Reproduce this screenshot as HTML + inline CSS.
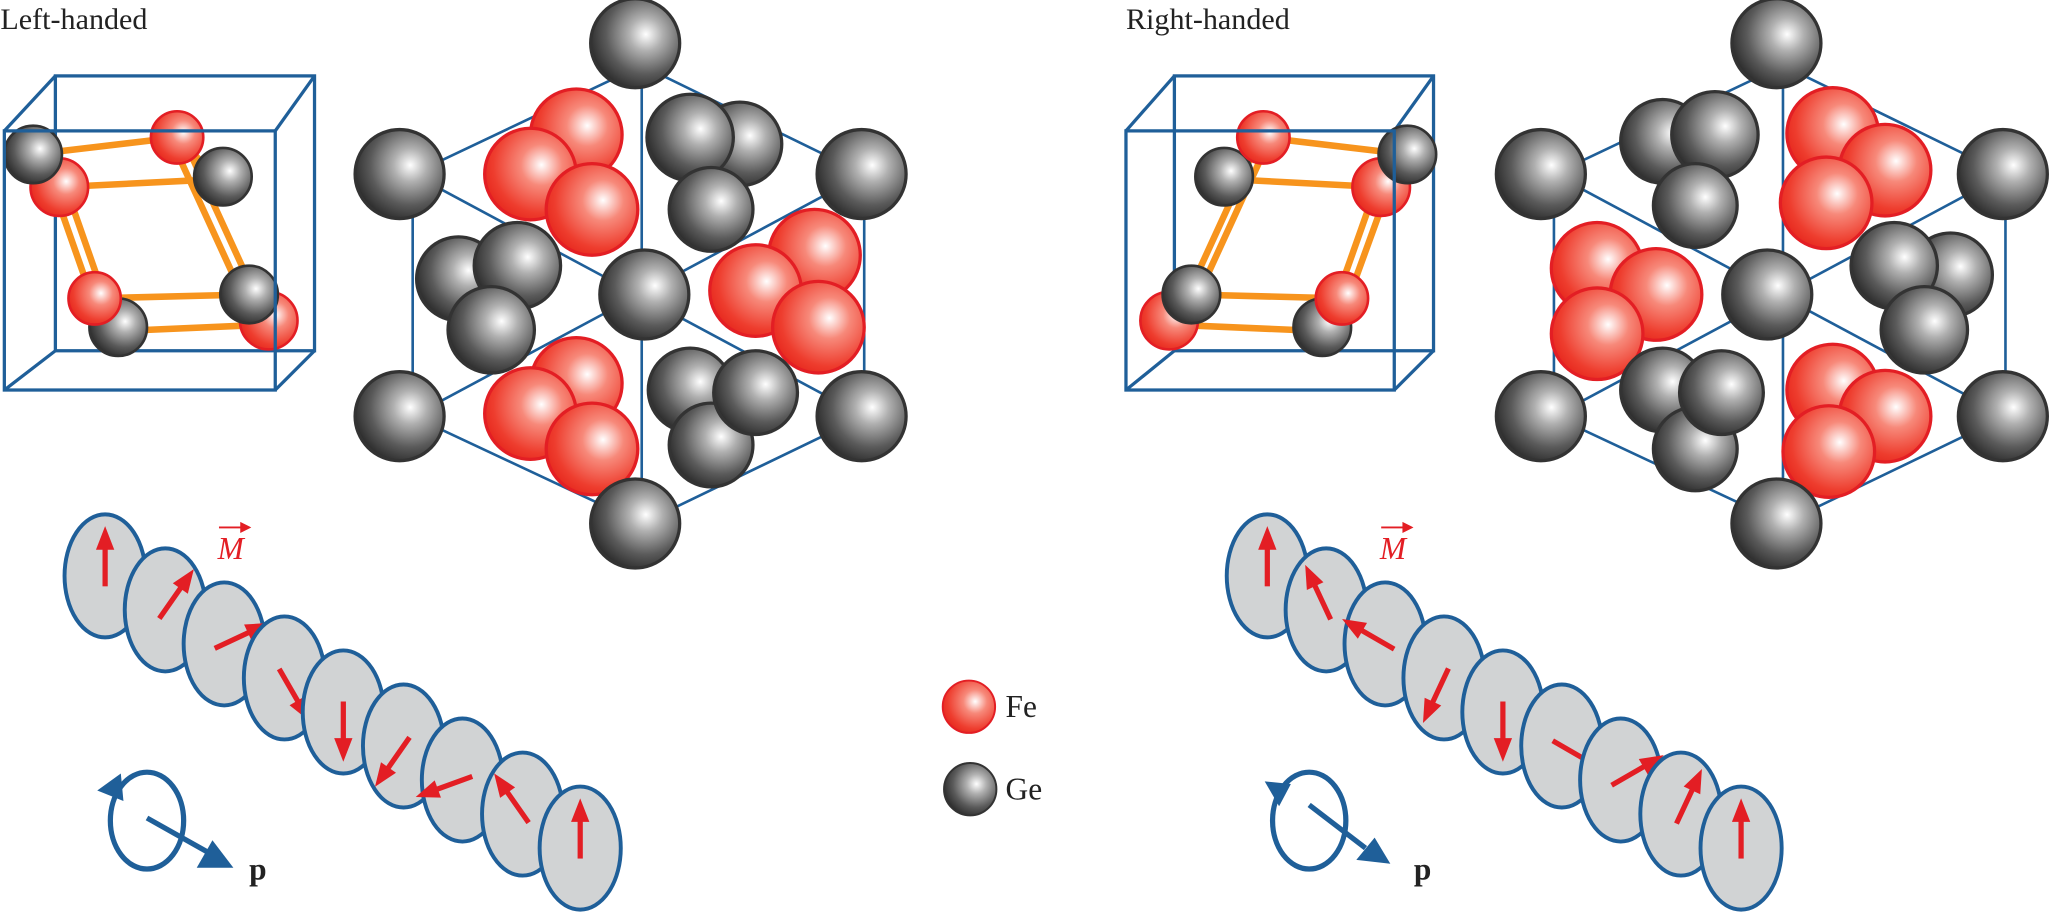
<!DOCTYPE html>
<html><head><meta charset="utf-8"><style>html,body{margin:0;padding:0;background:#fff;overflow:hidden}svg{display:block}</style></head>
<body>
<svg width="2053" height="924" viewBox="0 0 1568 706" xmlns="http://www.w3.org/2000/svg">
<defs>
<radialGradient id="ge" cx="0.62" cy="0.4" r="0.75">
<stop offset="0" stop-color="#ffffff"/><stop offset="0.25" stop-color="#b0b0b0"/><stop offset="0.6" stop-color="#5a5a5a"/><stop offset="1" stop-color="#151515"/></radialGradient>
<radialGradient id="fe" cx="0.62" cy="0.4" r="0.75">
<stop offset="0" stop-color="#ffffff"/><stop offset="0.3" stop-color="#f7897a"/><stop offset="0.7" stop-color="#ee3d2e"/><stop offset="1" stop-color="#e21b14"/></radialGradient>
<g id="arr"><line x1="0" y1="8" x2="0" y2="-22" stroke="#e31e24" stroke-width="4"/><polygon points="0,-38 -7,-20 7,-20" fill="#e31e24"/></g>
<ellipse id="disc" cx="0" cy="0" rx="31" ry="47" fill="#d1d3d4" stroke="#1f5f99" stroke-width="3"/>
</defs>
<g font-family="Liberation Serif, serif">
<text x="0" y="22" font-size="23" fill="#222">Left-handed</text>
<text x="860" y="22" font-size="23" fill="#222">Right-handed</text>
</g>

<!-- LEFT CUBE -->
<g fill="none" stroke="#1f5f99" stroke-width="2.5">
<rect x="42" y="58" width="198" height="210"/>
<line x1="3" y1="100" x2="42" y2="58"/><line x1="210" y1="100" x2="240" y2="58"/>
<line x1="3" y1="298" x2="42" y2="268"/><line x1="210" y1="298" x2="240" y2="268"/>
</g>
<g stroke="#f7941d" stroke-width="5" fill="none">
<line x1="25" y1="118" x2="135" y2="105"/><line x1="45" y1="143" x2="165" y2="137"/>
<line x1="42" y1="148" x2="70" y2="228"/><line x1="51" y1="146" x2="79" y2="226"/>
<line x1="131" y1="108" x2="186" y2="228"/><line x1="140" y1="106" x2="195" y2="226"/>
<line x1="72" y1="228" x2="190" y2="225"/><line x1="90" y1="253" x2="205" y2="248"/>
<line x1="145" y1="115" x2="165" y2="135"/><line x1="72" y1="228" x2="92" y2="250"/>
</g>
<g stroke-width="2">
<circle cx="205" cy="245" r="22" fill="url(#fe)" stroke="#e31e24"/>
<circle cx="90" cy="250" r="22" fill="url(#ge)" stroke="#333"/>
<circle cx="170" cy="135" r="22" fill="url(#ge)" stroke="#333"/>
<circle cx="45" cy="143" r="22" fill="url(#fe)" stroke="#e31e24"/>
<circle cx="25" cy="118" r="22" fill="url(#ge)" stroke="#333"/>
<circle cx="135" cy="105" r="20" fill="url(#fe)" stroke="#e31e24"/>
<circle cx="72" cy="228" r="20" fill="url(#fe)" stroke="#e31e24"/>
<circle cx="190" cy="225" r="22" fill="url(#ge)" stroke="#333"/>
</g>
<rect x="3" y="100" width="207" height="198" fill="none" stroke="#1f5f99" stroke-width="2.5"/>

<!-- RIGHT CUBE -->
<g fill="none" stroke="#1f5f99" stroke-width="2.5">
<rect x="897" y="58" width="198" height="210"/>
<line x1="860" y1="100" x2="897" y2="58"/><line x1="1065" y1="100" x2="1095" y2="58"/>
<line x1="860" y1="298" x2="897" y2="268"/><line x1="1065" y1="298" x2="1095" y2="268"/>
</g>
<g stroke="#f7941d" stroke-width="5" fill="none">
<line x1="965" y1="105" x2="1075" y2="118"/><line x1="940" y1="137" x2="1055" y2="143"/>
<line x1="961" y1="108" x2="906" y2="228"/><line x1="970" y1="106" x2="915" y2="226"/>
<line x1="1050" y1="146" x2="1021" y2="228"/><line x1="1059" y1="148" x2="1030" y2="228"/>
<line x1="910" y1="225" x2="1025" y2="228"/><line x1="893" y1="248" x2="1010" y2="253"/>
<line x1="955" y1="115" x2="935" y2="135"/>
</g>
<g stroke-width="2">
<circle cx="893" cy="245" r="22" fill="url(#fe)" stroke="#e31e24"/>
<circle cx="1010" cy="250" r="22" fill="url(#ge)" stroke="#333"/>
<circle cx="935" cy="135" r="22" fill="url(#ge)" stroke="#333"/>
<circle cx="1055" cy="143" r="22" fill="url(#fe)" stroke="#e31e24"/>
<circle cx="1075" cy="118" r="22" fill="url(#ge)" stroke="#333"/>
<circle cx="965" cy="105" r="20" fill="url(#fe)" stroke="#e31e24"/>
<circle cx="1025" cy="228" r="20" fill="url(#fe)" stroke="#e31e24"/>
<circle cx="910" cy="225" r="22" fill="url(#ge)" stroke="#333"/>
</g>
<rect x="860" y="100" width="205" height="198" fill="none" stroke="#1f5f99" stroke-width="2.5"/>

<!-- LEFT HEXAGON -->
<g fill="none" stroke="#1f5f99" stroke-width="2">
<polygon points="490,50 315,133 315,318 490,400 660,318 660,133"/>
<line x1="490" y1="50" x2="490" y2="400"/>
<line x1="315" y1="133" x2="660" y2="318"/><line x1="315" y1="318" x2="660" y2="133"/>
</g>
<g stroke-width="2.5">
<circle cx="440" cy="103" r="35" fill="url(#fe)" stroke="#e31e24"/>
<circle cx="405" cy="133" r="35" fill="url(#fe)" stroke="#e31e24"/>
<circle cx="452" cy="160" r="35" fill="url(#fe)" stroke="#e31e24"/>
<circle cx="565" cy="110" r="32" fill="url(#ge)" stroke="#333"/>
<circle cx="527" cy="105" r="33" fill="url(#ge)" stroke="#333"/>
<circle cx="543" cy="160" r="32" fill="url(#ge)" stroke="#333"/>
<circle cx="622" cy="195" r="35" fill="url(#fe)" stroke="#e31e24"/>
<circle cx="577" cy="222" r="35" fill="url(#fe)" stroke="#e31e24"/>
<circle cx="625" cy="250" r="35" fill="url(#fe)" stroke="#e31e24"/>
<circle cx="527" cy="298" r="32" fill="url(#ge)" stroke="#333"/>
<circle cx="543" cy="340" r="32" fill="url(#ge)" stroke="#333"/>
<circle cx="577" cy="300" r="32" fill="url(#ge)" stroke="#333"/>
<circle cx="440" cy="293" r="35" fill="url(#fe)" stroke="#e31e24"/>
<circle cx="405" cy="316" r="35" fill="url(#fe)" stroke="#e31e24"/>
<circle cx="452" cy="343" r="35" fill="url(#fe)" stroke="#e31e24"/>
<circle cx="350" cy="213" r="32" fill="url(#ge)" stroke="#333"/>
<circle cx="395" cy="203" r="33" fill="url(#ge)" stroke="#333"/>
<circle cx="375" cy="252" r="33" fill="url(#ge)" stroke="#333"/>
<circle cx="485" cy="33" r="34" fill="url(#ge)" stroke="#333"/>
<circle cx="305" cy="133" r="34" fill="url(#ge)" stroke="#333"/>
<circle cx="305" cy="318" r="34" fill="url(#ge)" stroke="#333"/>
<circle cx="485" cy="400" r="34" fill="url(#ge)" stroke="#333"/>
<circle cx="658" cy="318" r="34" fill="url(#ge)" stroke="#333"/>
<circle cx="658" cy="133" r="34" fill="url(#ge)" stroke="#333"/>
<circle cx="492" cy="225" r="34" fill="url(#ge)" stroke="#333"/>
</g>

<!-- RIGHT HEXAGON -->
<g fill="none" stroke="#1f5f99" stroke-width="2">
<polygon points="1362,50 1187,133 1187,318 1362,400 1532,318 1532,133"/>
<line x1="1362" y1="50" x2="1362" y2="400"/>
<line x1="1187" y1="133" x2="1532" y2="318"/><line x1="1187" y1="318" x2="1532" y2="133"/>
</g>
<g stroke-width="2.5">
<circle cx="1270" cy="108" r="32" fill="url(#ge)" stroke="#333"/>
<circle cx="1310" cy="103" r="33" fill="url(#ge)" stroke="#333"/>
<circle cx="1295" cy="157" r="32" fill="url(#ge)" stroke="#333"/>
<circle cx="1400" cy="102" r="35" fill="url(#fe)" stroke="#e31e24"/>
<circle cx="1440" cy="130" r="35" fill="url(#fe)" stroke="#e31e24"/>
<circle cx="1395" cy="155" r="35" fill="url(#fe)" stroke="#e31e24"/>
<circle cx="1220" cy="205" r="35" fill="url(#fe)" stroke="#e31e24"/>
<circle cx="1265" cy="225" r="35" fill="url(#fe)" stroke="#e31e24"/>
<circle cx="1220" cy="255" r="35" fill="url(#fe)" stroke="#e31e24"/>
<circle cx="1490" cy="210" r="32" fill="url(#ge)" stroke="#333"/>
<circle cx="1447" cy="203" r="33" fill="url(#ge)" stroke="#333"/>
<circle cx="1470" cy="252" r="33" fill="url(#ge)" stroke="#333"/>
<circle cx="1270" cy="298" r="32" fill="url(#ge)" stroke="#333"/>
<circle cx="1295" cy="343" r="32" fill="url(#ge)" stroke="#333"/>
<circle cx="1315" cy="300" r="32" fill="url(#ge)" stroke="#333"/>
<circle cx="1400" cy="298" r="35" fill="url(#fe)" stroke="#e31e24"/>
<circle cx="1440" cy="318" r="35" fill="url(#fe)" stroke="#e31e24"/>
<circle cx="1397" cy="345" r="35" fill="url(#fe)" stroke="#e31e24"/>
<circle cx="1357" cy="33" r="34" fill="url(#ge)" stroke="#333"/>
<circle cx="1177" cy="133" r="34" fill="url(#ge)" stroke="#333"/>
<circle cx="1177" cy="318" r="34" fill="url(#ge)" stroke="#333"/>
<circle cx="1357" cy="400" r="34" fill="url(#ge)" stroke="#333"/>
<circle cx="1530" cy="318" r="34" fill="url(#ge)" stroke="#333"/>
<circle cx="1530" cy="133" r="34" fill="url(#ge)" stroke="#333"/>
<circle cx="1350" cy="225" r="34" fill="url(#ge)" stroke="#333"/>
</g>

<!-- LEFT SPIRAL -->
<g transform="translate(80,440)"><use href="#disc"/><use href="#arr" transform="rotate(0)"/></g>
<g transform="translate(126,466)"><use href="#disc"/><use href="#arr" transform="rotate(35)"/></g>
<g transform="translate(171,492)"><use href="#disc"/><use href="#arr" transform="rotate(65)"/></g>
<g transform="translate(217,518)"><use href="#disc"/><use href="#arr" transform="rotate(150)"/></g>
<g transform="translate(262,544)"><use href="#disc"/><use href="#arr" transform="rotate(180)"/></g>
<g transform="translate(308,570)"><use href="#disc"/><use href="#arr" transform="rotate(215)"/></g>
<g transform="translate(353,596)"><use href="#disc"/><use href="#arr" transform="rotate(250)"/></g>
<g transform="translate(399,622)"><use href="#disc"/><use href="#arr" transform="rotate(325)"/></g>
<g transform="translate(443,648)"><use href="#disc"/><use href="#arr" transform="rotate(0)"/></g>

<!-- RIGHT SPIRAL -->
<g transform="translate(968,440)"><use href="#disc"/><use href="#arr" transform="rotate(0)"/></g>
<g transform="translate(1013,466)"><use href="#disc"/><use href="#arr" transform="rotate(-25)"/></g>
<g transform="translate(1058,492)"><use href="#disc"/><use href="#arr" transform="rotate(-60)"/></g>
<g transform="translate(1103,518)"><use href="#disc"/><use href="#arr" transform="rotate(-155)"/></g>
<g transform="translate(1148,544)"><use href="#disc"/><use href="#arr" transform="rotate(180)"/></g>
<g transform="translate(1193,570)"><use href="#disc"/><use href="#arr" transform="rotate(-240)"/></g>
<g transform="translate(1238,596)"><use href="#disc"/><use href="#arr" transform="rotate(-300)"/></g>
<g transform="translate(1284,622)"><use href="#disc"/><use href="#arr" transform="rotate(-335)"/></g>
<g transform="translate(1330,648)"><use href="#disc"/><use href="#arr" transform="rotate(0)"/></g>

<!-- M labels -->
<g fill="#e31e24" font-family="Liberation Serif, serif" font-style="italic" font-size="24">
<text x="166" y="427">M</text><text x="1054" y="427">M</text>
</g>
<g stroke="#e31e24" stroke-width="1.5" fill="#e31e24">
<line x1="167" y1="403" x2="186" y2="403"/><polygon points="190,403 184,400 184,406"/>
<line x1="1055" y1="403" x2="1074" y2="403"/><polygon points="1078,403 1072,400 1072,406"/>
</g>

<!-- rotation icons -->
<g stroke="#1f5f99" stroke-width="4" fill="none">
<ellipse cx="112" cy="627" rx="28" ry="37"/>
<line x1="112" y1="625" x2="160" y2="652"/>
<ellipse cx="1000" cy="627" rx="28" ry="37"/>
<line x1="1000" y1="615" x2="1043" y2="648"/>
</g>
<g fill="#1f5f99">
<polygon points="178,663 150,663 162,642"/>
<polygon points="74,604 92,591 94,612"/>
<polygon points="1062,660 1036,657 1050,640"/>
<polygon points="966,597 986,599 977,616"/>
</g>
<g font-family="Liberation Serif, serif" font-weight="bold" font-size="24" fill="#222">
<text x="190" y="672">p</text><text x="1080" y="672">p</text>
</g>

<!-- legend -->
<circle cx="740" cy="540" r="20" fill="url(#fe)" stroke="#e31e24" stroke-width="1.5"/>
<circle cx="741" cy="603" r="20" fill="url(#ge)" stroke="#333" stroke-width="1.5"/>
<g font-family="Liberation Serif, serif" font-size="24" fill="#222">
<text x="768" y="548">Fe</text><text x="768" y="611">Ge</text>
</g>
</svg>
</body></html>
